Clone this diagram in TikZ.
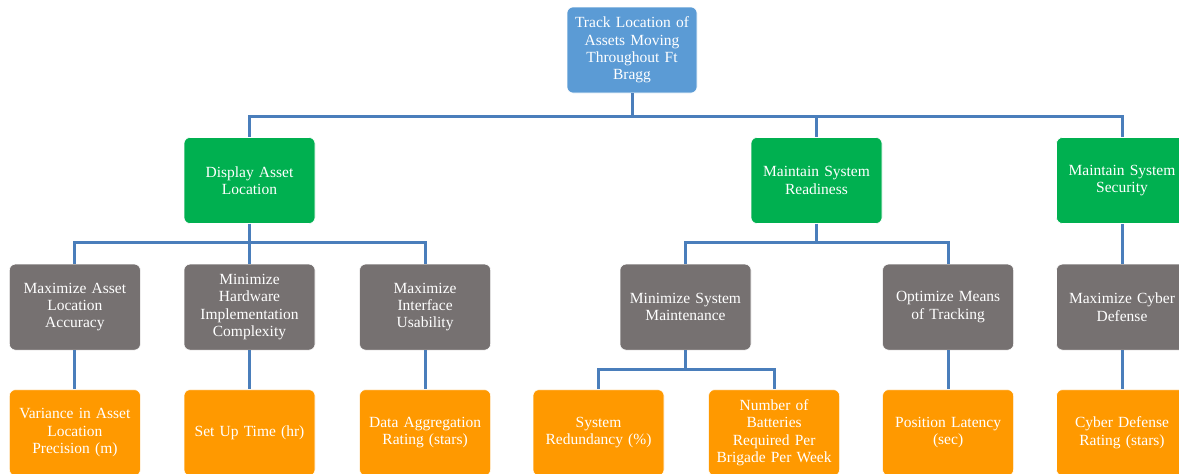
\documentclass[tikz,border=0pt]{standalone}
\usepackage{fontspec}
\setmainfont{Liberation Serif}
\usetikzlibrary{positioning}
\definecolor{GoalBlue}{HTML}{5B9BD5}
\definecolor{GoalGreen}{HTML}{00B050}
\definecolor{GoalGray}{HTML}{767171}
\definecolor{GoalOrange}{HTML}{FF9900}
\definecolor{LinkBlue}{HTML}{4A7EBB}
\tikzset{goal/.style={draw=white,line width=0.6pt,rounded corners=6pt,text=white,
align=center,minimum width=131pt,minimum height=86pt,text width=125pt,inner sep=0pt,
font=\fontsize{15.5}{17.4}\selectfont},
top/.style={goal,fill=GoalBlue,minimum width=130pt},
func/.style={goal,fill=GoalGreen},
obj/.style={goal,fill=GoalGray},
meas/.style={goal,fill=GoalOrange},
link/.style={draw=LinkBlue,line width=3pt}}
\begin{document}
\begin{tikzpicture}[x=1pt,y=1pt,node distance=40pt and 43pt]
\useasboundingbox(0,0)rectangle(1179,-474);
\clip(0,0)rectangle(1179,-474);
\node[top](root)at(632,-50){Track Location of\\Assets Moving\\Throughout Ft\\Bragg};
\node[func](disp)at(249.5,-180.5){Display Asset\\Location};
\node[func](ready)at(816.5,-180.5){Maintain System\\Readiness};
\node[func](sec)at(1122,-180.5){Maintain System\\Security};
% objectives
\node[obj,below=of disp](hw){Minimize\\Hardware\\Implementation\\Complexity};
\node[obj,left=of hw](acc){Maximize Asset\\Location\\Accuracy};
\node[obj,right=44pt of hw](use){Maximize\\Interface\\Usability};
\node[obj,below=of ready,xshift=-131pt](maint){Minimize System\\Maintenance};
\node[obj,right=131pt of maint](track){Optimize Means\\of Tracking};
\node[obj,below=of sec](cyber){Maximize Cyber\\Defense};
% measures
\node[meas,below=39pt of acc](var){Variance in Asset\\Location\\Precision (m)};
\node[meas,below=39pt of hw](setup){Set Up Time (hr)};
\node[meas,below=39pt of use](agg){Data Aggregation\\Rating (stars)};
\node[meas,below=39pt of maint,xshift=-87pt](redund){System\\Redundancy (\%)};
\node[meas,right=44pt of redund](batt){Number of\\Batteries\\Required Per\\Brigade Per Week};
\node[meas,below=39pt of track](lat){Position Latency\\(sec)};
\node[meas,below=39pt of cyber](cdr){Cyber Defense\\Rating (stars)};
\draw[link](root.south)--++(0,-23)-|(disp.north);
\draw[link](root.south)--++(0,-23)-|(ready.north);
\draw[link](root.south)--++(0,-23)-|(sec.north);
\draw[link](disp.south)--++(0,-19)-|(acc.north);
\draw[link](disp.south)--(hw.north);
\draw[link](disp.south)--++(0,-19)-|(use.north);
\draw[link](ready.south)--++(0,-19)-|(maint.north);
\draw[link](ready.south)--++(0,-19)-|(track.north);
\draw[link](sec)--(cyber);
\draw[link](acc)--(var);\draw[link](hw)--(setup);\draw[link](use)--(agg);
\draw[link](maint.south)--++(0,-19)-|(redund.north);
\draw[link](maint.south)--++(0,-19)-|(batt.north);
\draw[link](track)--(lat);\draw[link](cyber)--(cdr);
\end{tikzpicture}
\end{document}
